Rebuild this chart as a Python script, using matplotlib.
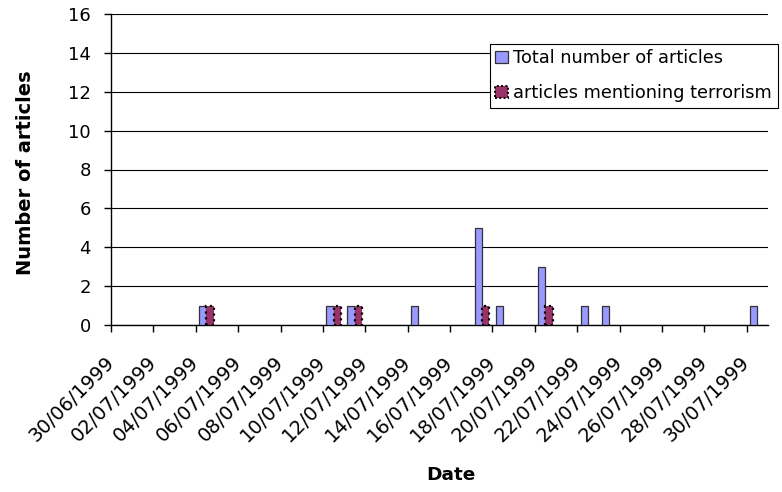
import datetime as dt
import matplotlib
matplotlib.use("Agg")
import matplotlib.pyplot as plt
from matplotlib.patches import Patch
import matplotlib.transforms as mtransforms

plt.rcParams['font.family'] = ['DejaVu Sans']

# Daily article counts, July 1999
start = dt.date(1999, 6, 30)
n_days = 31
total_dates = ["04/07/1999", "10/07/1999", "11/07/1999", "14/07/1999", "17/07/1999",
               "18/07/1999", "20/07/1999", "22/07/1999", "23/07/1999", "30/07/1999"]
total_counts = [1, 1, 1, 1, 5, 1, 3, 1, 1, 1]
terror_dates = ["04/07/1999", "10/07/1999", "11/07/1999", "17/07/1999", "20/07/1999"]
terror_counts = [1, 1, 1, 1, 1]
series_names = ["Total number of articles", "articles mentioning terrorism"]
y_ticks = [0, 2, 4, 6, 8, 10, 12, 14, 16]

def day_index(s):
    d = dt.datetime.strptime(s, "%d/%m/%Y").date()
    return (d - start).days

tick_days = list(range(0, n_days, 2))
tick_labels = [(start + dt.timedelta(days=k)).strftime("%d/%m/%Y") for k in tick_days]

blue = "#9999FF"
purple = "#993366"
bw = 0.345

fig = plt.figure(figsize=(7.82, 4.92), dpi=100)
ax = fig.add_axes([111 / 782, 1 - 325 / 492, (768 - 111) / 782, (325 - 14) / 492])

xb = [day_index(s) + 0.5 - bw / 2 for s in total_dates]
ax.bar(xb, total_counts, width=bw, color=blue, edgecolor="#333333", linewidth=0.9, zorder=3)
xp = [day_index(s) + 0.5 + bw / 2 for s in terror_dates]
ax.bar(xp, terror_counts, width=bw, color=purple, edgecolor="black", linewidth=1.6,
       linestyle=(0, (1, 1.6)), zorder=3)

ax.set_xlim(0, n_days)
ax.set_ylim(0, 16)
ax.set_yticks(y_ticks)
ax.yaxis.grid(True, color="black", linewidth=0.8)
ax.set_axisbelow(True)
for s in ["top", "right"]:
    ax.spines[s].set_visible(False)
for s in ["left", "bottom"]:
    ax.spines[s].set_linewidth(1.0)
    ax.spines[s].set_color("black")

ax.set_xticks(tick_days)
ax.set_xticklabels(tick_labels, rotation=45, ha="right", va="center",
                   rotation_mode="anchor", fontsize=14)
shift = mtransforms.ScaledTranslation(-3 / 100, 0, fig.dpi_scale_trans)
for lbl in ax.get_xticklabels():
    lbl.set_transform(lbl.get_transform() + shift)
ax.tick_params(axis="x", length=5, width=1, direction="out", pad=20)
ax.tick_params(axis="y", length=5, width=1, direction="out", labelsize=13, pad=9.5)

ax.set_xlabel("Date", fontsize=13.3, fontweight="bold")
ax.xaxis.set_label_coords(0.5175, -0.453)
ax.set_ylabel("Number of articles", fontsize=14, fontweight="bold")
ax.yaxis.set_label_coords(-0.115, 0.49)

handles = [Patch(facecolor=blue, edgecolor="#333333", linewidth=0.9),
           Patch(facecolor=purple, edgecolor="black", linewidth=1.4, linestyle=(0, (1, 1.2)))]
leg = fig.legend(handles, series_names, loc="upper left",
                 bbox_to_anchor=(490 / 782, 1 - 44 / 492), fontsize=12.8,
                 frameon=True, fancybox=False, edgecolor="black", framealpha=1,
                 handlelength=0.72, handleheight=0.72, handletextpad=0.3,
                 borderpad=0.3, labelspacing=0.95, borderaxespad=0)
leg.get_frame().set_linewidth(0.8)

fig.savefig("out.png", dpi=100, facecolor="white")
